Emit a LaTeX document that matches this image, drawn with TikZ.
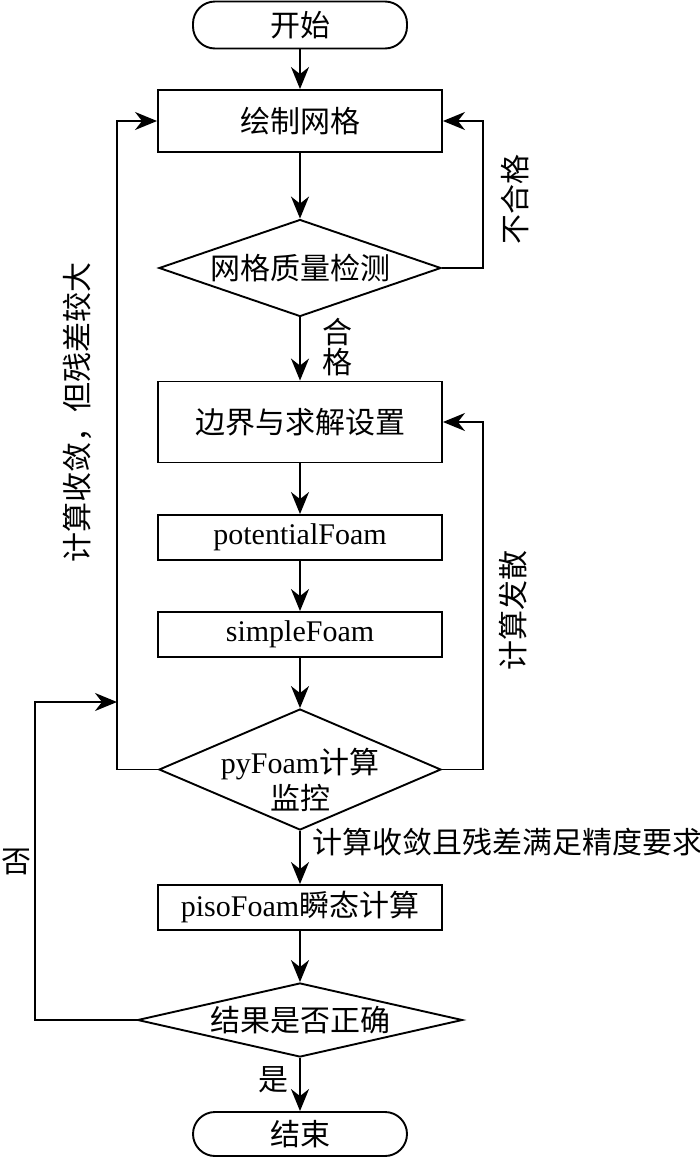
\documentclass[tikz,border=0pt]{standalone}
\usepackage{fontspec}
\setmainfont{Liberation Serif}
\newfontfamily\cjk{Noto Sans CJK SC}
\usetikzlibrary{arrows.meta,shapes.geometric}
\begin{document}
\begin{tikzpicture}[x=1pt,y=-1pt,
  every node/.style={font=\fontsize{30}{36}\selectfont},
  flow/.style={line width=1.9pt},
  arr/.style={flow,-{Stealth[length=22pt,width=18pt,inset=7pt]}},
  boxnode/.style={draw,line width=1.9pt,rectangle,minimum width=284pt,inner sep=0pt},
  termnode/.style={draw,line width=1.9pt,rectangle,rounded corners=22pt,minimum width=214pt,inner sep=0pt},
  dianode/.style={draw,line width=1.9pt,diamond,inner sep=0pt},
  lbl/.style={inner sep=0pt}
]
\useasboundingbox[fill=white] (0,0) rectangle (700,1157);
% nodes
\node[termnode,minimum height=47pt] (start) at (300,25) {\cjk 开始};
\node[boxnode,minimum height=62pt] (b1) at (300,121) {\cjk 绘制网格};
\node[dianode,minimum width=282pt,minimum height=97pt] (d1) at (300,268) {};
\node[lbl] (t1) at (d1) {\cjk 网格质量检测};
\node[boxnode,minimum height=81pt] (b2) at (300,422) {\cjk 边界与求解设置};
\node[boxnode,minimum height=45pt] (b3) at (300,537.5) {potentialFoam};
\node[boxnode,minimum height=45pt] (b4) at (300,634.5) {simpleFoam};
\node[dianode,minimum width=282pt,minimum height=121pt] (d2) at (300,769.5) {};
\node[lbl,align=center] (t2) at (300,780) {pyFoam{\cjk 计算}\\{\cjk 监控}};
\node[boxnode,minimum height=45pt] (b5) at (300,907.5) {pisoFoam{\cjk 瞬态计算}};
\node[dianode,minimum width=325pt,minimum height=74pt] (d3) at (300,1020) {};
\node[lbl] (t3) at (d3) {\cjk 结果是否正确};
\node[termnode,minimum height=44pt] (end) at (300,1134) {\cjk 结束};
% helper coordinates
\coordinate (rx) at (483,0);
\coordinate (lx) at (117,0);
\coordinate (llx) at (35,0);
\coordinate (lj) at (117,702);
% connectors
\draw[arr] (start) -- (b1);
\draw[arr] (b1) -- (d1);
\draw[arr] (d1.east) -- (d1.east -| rx) -- (rx |- b1.east) -- (b1.east);
\draw[arr] (d1.south) -- (b2.north);
\draw[arr] (b2) -- (b3);
\draw[arr] (b3) -- (b4);
\draw[arr] (b4.south) -- (d2.north);
\draw[arr] (d2.east) -- (d2.east -| rx) -- (rx |- b2.east) -- (b2.east);
\draw[arr] (d2.west) -- (d2.west -| lx) -- (lx |- b1.west) -- (b1.west);
\draw[arr] (d2.south) -- (b5.north);
\draw[arr] (b5) -- (d3.north);
\draw[arr] (d3.west) -- (d3.west -| llx) -- (llx |- lj) -- (lj);
\draw[arr] (d3.south) -- (end.north);
% labels
\node[lbl,align=center] (l1) at (337,347) {{\cjk 合}\\[-6pt]{\cjk 格}};
\node[lbl,rotate=90] (l2) at (515,199) {\cjk 不合格};
\node[lbl,rotate=90] (l3) at (513,610) {\cjk 计算发散};
\node[lbl,rotate=90] (l4) at (77,412) {\cjk 计算收敛，但残差较大};
\node[lbl] (l5) at (507,842) {\cjk 计算收敛且残差满足精度要求};
\node[lbl,anchor=west] (l6) at (1,862) {\cjk 否};
\node[lbl] (l7) at (273,1080) {\cjk 是};
\end{tikzpicture}
\end{document}
